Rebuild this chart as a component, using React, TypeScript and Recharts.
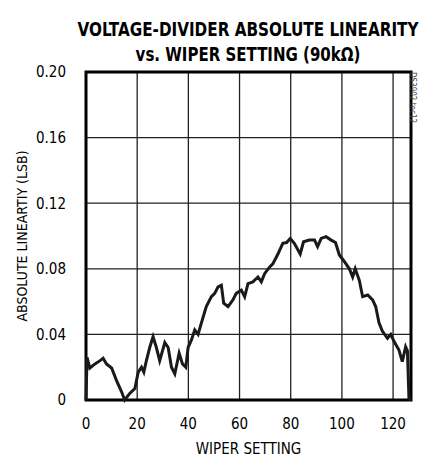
import { useLayoutEffect, useRef, useState } from "react";
import {
  LineChart,
  Line,
  XAxis,
  YAxis,
  CartesianGrid,
  ReferenceArea,
} from "recharts";

// wiper position (0-127) and absolute linearity in LSB
const wiper = [
  0, 0.4, 1.5, 3.5, 5.5, 6.7, 8, 10, 11.9, 13.9, 15.1, 17.1, 19.1, 20.4, 21.7,
  22.6, 23.6, 24.9, 26.2, 27.5, 28.8, 30.8, 32.1, 33.4, 34.7, 36.4, 37.7, 39,
  39.9, 41.2, 42.5, 43.8, 45.1, 47, 49, 50.3, 51.6, 52.9, 53.8, 55.5, 57.4,
  58.7, 60.7, 62, 63.3, 65.2, 67.2, 68.5, 69.8, 71.7, 73, 75, 76.9, 78.4, 79.8,
  81.4, 83.7, 85, 87.3, 89.3, 90.5, 91.9, 93.8, 95.8, 97.5, 99, 101, 102.9,
  104.2, 105.2, 106.8, 108.1, 110.1, 112, 113.2, 114.5, 115.8, 117.8, 119.1,
  120.4, 122.3, 123.6, 124.9, 125.6, 126.2, 127,
];
const linearity = [
  0, 0.026, 0.0195, 0.022, 0.024, 0.0255, 0.022, 0.0195, 0.012, 0.005, 0.0,
  0.004, 0.007, 0.017, 0.02, 0.017, 0.024, 0.032, 0.0386, 0.032, 0.024, 0.035,
  0.032, 0.02, 0.016, 0.0285, 0.022, 0.02, 0.032, 0.0366, 0.0427, 0.04, 0.047,
  0.057, 0.063, 0.065, 0.069, 0.07, 0.059, 0.057, 0.061, 0.065, 0.067, 0.063,
  0.071, 0.072, 0.075, 0.072, 0.077, 0.081, 0.083, 0.089, 0.0955, 0.096,
  0.0985, 0.0955, 0.089, 0.0965, 0.0975, 0.0975, 0.0935, 0.0985, 0.0996,
  0.0975, 0.096, 0.0884, 0.0843, 0.08, 0.075, 0.08, 0.073, 0.063, 0.064, 0.061,
  0.057, 0.047, 0.042, 0.0376, 0.04, 0.0356, 0.0305, 0.0234, 0.0325, 0.03,
  0.001, 0,
];
const xTicks = [0, 20, 40, 60, 80, 100, 120];
const yTicks = [0, 0.04, 0.08, 0.12, 0.16, 0.2];

const data = wiper.map((w, i) => ({ wiper: w, lin: linearity[i] }));

const narrow = "'Liberation Sans Narrow', 'DejaVu Sans Condensed', sans-serif";

// title line squeezed horizontally to a target width (condensed look)
function FitText({ text, y, width }: { text: string; y: number; width: number }) {
  const ref = useRef<SVGTextElement>(null);
  const [sx, setSx] = useState(1);
  useLayoutEffect(() => {
    if (ref.current) {
      const w = ref.current.getComputedTextLength();
      if (w > 0) setSx(width / w);
    }
  }, [text, width]);
  return (
    <g transform={`translate(248,${y}) scale(${sx},1)`}>
      <text
        ref={ref}
        x={0}
        y={0}
        textAnchor="middle"
        fontWeight="bold"
        fontSize={20}
        fontFamily={narrow}
      >
        {text}
      </text>
    </g>
  );
}

export default function App() {
  return (
    <div
      style={{
        position: "absolute",
        left: 0,
        top: 0,
        width: 423,
        height: 462,
        background: "#fff",
        fontFamily: narrow,
      }}
    >
      <LineChart
        width={423}
        height={462}
        data={data}
        margin={{ top: 72, right: 12, bottom: 8, left: 20 }}
        style={{ position: "absolute", left: 0, top: 0 }}
      >
        <CartesianGrid stroke="#222" strokeWidth={1.3} />
        <XAxis
          dataKey="wiper"
          type="number"
          domain={[0, 127]}
          ticks={xTicks}
          tickLine={false}
          axisLine={false}
          tickMargin={12}
          height={54}
          tick={{ fill: "#000", fontSize: 15, fontFamily: narrow }}
          label={{
            value: "WIPER SETTING",
            position: "insideBottom",
            offset: 0,
            fill: "#000",
            fontSize: 15,
            fontFamily: narrow,
          }}
        />
        <YAxis
          type="number"
          domain={[0, 0.2]}
          ticks={yTicks}
          tickLine={false}
          axisLine={false}
          tickMargin={14}
          width={66}
          tickFormatter={(v: number) => (v === 0 ? "0" : v.toFixed(2))}
          tick={{ fill: "#000", fontSize: 15, fontFamily: narrow }}
          label={{
            value: "ABSOLUTE LINEARTIY (LSB)",
            angle: -90,
            position: "insideLeft",
            offset: 2,
            style: { textAnchor: "middle" },
            fill: "#000",
            fontSize: 14,
            fontFamily: narrow,
          }}
        />
        <ReferenceArea
          x1={0}
          x2={127}
          y1={0}
          y2={0.2}
          fill="none"
          stroke="#000"
          strokeWidth={3}
        />
        <Line
          dataKey="lin"
          type="linear"
          stroke="#1a1a1a"
          strokeWidth={3}
          dot={false}
          isAnimationActive={false}
        />
      </LineChart>
      <svg
        width={423}
        height={70}
        style={{ position: "absolute", left: 0, top: 0 }}
      >
        <FitText text="VOLTAGE-DIVIDER ABSOLUTE LINEARITY" y={36} width={341} />
        <FitText text="vs. WIPER SETTING (90kΩ)" y={61} width={225} />
      </svg>
      <div
        style={{
          position: "absolute",
          left: 417,
          top: 72,
          fontSize: 8,
          color: "#444",
          transform: "rotate(90deg)",
          transformOrigin: "0 0",
          whiteSpace: "nowrap",
        }}
      >
        DS3902 toc12
      </div>
    </div>
  );
}
